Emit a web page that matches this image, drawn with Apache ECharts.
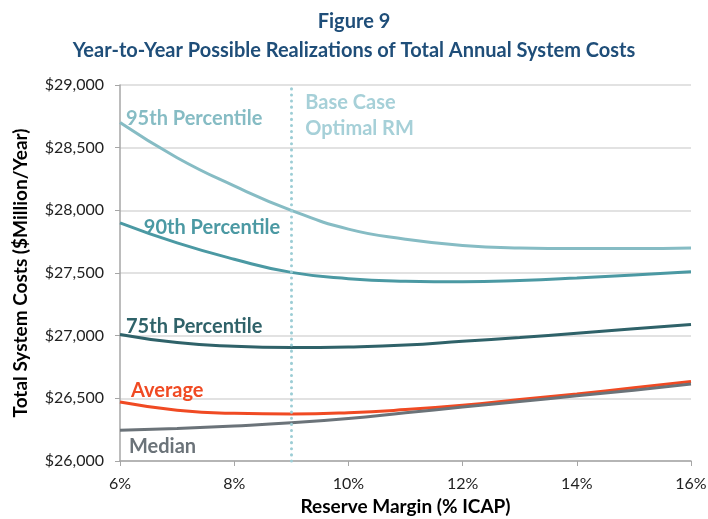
<!DOCTYPE html>
<html>
<head>
<meta charset="utf-8">
<script src="https://cdn.jsdelivr.net/npm/echarts@6/dist/echarts.min.js"></script>
<style>
  html, body { margin: 0; padding: 0; background: #fff; }
  #main { width: 708px; height: 519px; }
</style>
</head>
<body>
<div id="main"></div>
<script>
// reserve margin (% ICAP)
const margins = [6, 7, 8, 9, 10, 11, 12, 13, 14, 15, 16];

// total system costs, $Million/Year
const p95 = [28700, 28420, 28195, 28000, 27850, 27770, 27720, 27700, 27695, 27695, 27700];
const p90 = [27900, 27740, 27610, 27505, 27455, 27435, 27430, 27440, 27460, 27485, 27510];
const p75 = [27010, 26945, 26915, 26905, 26910, 26925, 26955, 26985, 27020, 27055, 27090];
const average = [26470, 26405, 26380, 26375, 26385, 26410, 26445, 26490, 26535, 26585, 26635];
const median = [26245, 26260, 26280, 26305, 26340, 26385, 26430, 26475, 26520, 26565, 26615];

const baseCaseRM = 9;

const font = "Lato";

function pairs(vals) {
  return margins.map((m, i) => [m, vals[i]]);
}

// label: text, anchor point in data coords, pixel offset
function lineSeries(name, vals, color, label, at, offset) {
  return {
    name: name,
    type: "line",
    data: pairs(vals),
    smooth: true,
    showSymbol: false,
    lineStyle: { color: color, width: 3 },
    z: 3,
    markPoint: {
      symbol: "circle",
      symbolSize: 0,
      data: [{ coord: at, value: label }],
      label: {
        show: true,
        position: "right",
        distance: 0,
        offset: offset,
        formatter: label,
        color: color,
        fontFamily: font,
        fontWeight: "bold",
        fontSize: 20
      }
    }
  };
}

const chart = echarts.init(document.getElementById("main"), null, { renderer: "canvas" });

const option = {
  animation: false,
  title: {
    text: "Figure 9\nYear-to-Year Possible Realizations of Total Annual System Costs",
    left: "center",
    top: 2,
    textStyle: {
      color: "#1f4e79",
      fontFamily: font,
      fontWeight: "bold",
      fontSize: 20,
      lineHeight: 29
    }
  },
  grid: { left: 120, right: 17, top: 85, bottom: 58, outerBoundsMode: "none" },
  xAxis: {
    type: "value",
    min: 6,
    max: 16,
    interval: 2,
    name: "Reserve Margin (% ICAP)",
    nameLocation: "middle",
    nameGap: 35,
    nameTextStyle: { color: "#000", fontFamily: font, fontWeight: "bold", fontSize: 19 },
    axisLine: { show: true, lineStyle: { color: "#a6a6a6", width: 1.5 } },
    axisTick: { show: true, length: 5, lineStyle: { color: "#a6a6a6" } },
    axisLabel: { formatter: "{value}%", color: "#222", fontFamily: font, fontSize: 16, margin: 15 },
    splitLine: { show: false }
  },
  yAxis: {
    type: "value",
    min: 26000,
    max: 29000,
    interval: 500,
    name: "Total System Costs ($Million/Year)",
    nameLocation: "middle",
    nameGap: 90,
    nameTextStyle: { color: "#000", fontFamily: font, fontWeight: "bold", fontSize: 19 },
    axisLine: { show: true, lineStyle: { color: "#a6a6a6", width: 1.5 } },
    axisTick: { show: true, length: 5, lineStyle: { color: "#a6a6a6" } },
    axisLabel: {
      color: "#222",
      fontFamily: font,
      fontSize: 16,
      margin: 16,
      formatter: v => "$" + v.toLocaleString("en-US")
    },
    splitLine: { lineStyle: { color: "#d9d9d9", width: 1.5 } }
  },
  series: [
    lineSeries("95th", p95, "#86bcc4", "95th Percentile", [6, 28700], [6, -4]),
    lineSeries("90th", p90, "#4b99a3", "90th Percentile", [6.4, 27880], [1, 2]),
    lineSeries("75th", p75, "#2f6269", "75th Percentile", [6, 27010], [6, -8]),
    lineSeries("Average", average, "#f04a23", "Average", [6, 26470], [11, -12]),
    lineSeries("Median", median, "#6b7379", "Median", [6, 26245], [9, 16]),
    {
      name: "Base Case",
      type: "line",
      data: [],
      markLine: {
        symbol: "none",
        silent: true,
        lineStyle: { color: "#9ccdd5", type: [0.1, 6], width: 3, cap: "round" },
        label: { show: false },
        data: [{ xAxis: baseCaseRM }]
      },
      markPoint: {
        symbol: "circle",
        symbolSize: 0,
        data: [{ coord: [baseCaseRM, 28753] }],
        label: {
          show: true,
          position: "right",
          distance: 0,
          offset: [14, 0],
          formatter: "Base Case\nOptimal RM",
          color: "#a6d0d8",
          fontFamily: font,
          fontWeight: "bold",
          fontSize: 20,
          lineHeight: 26
        }
      }
    }
  ]
};

chart.setOption(option);
</script>
</body>
</html>
